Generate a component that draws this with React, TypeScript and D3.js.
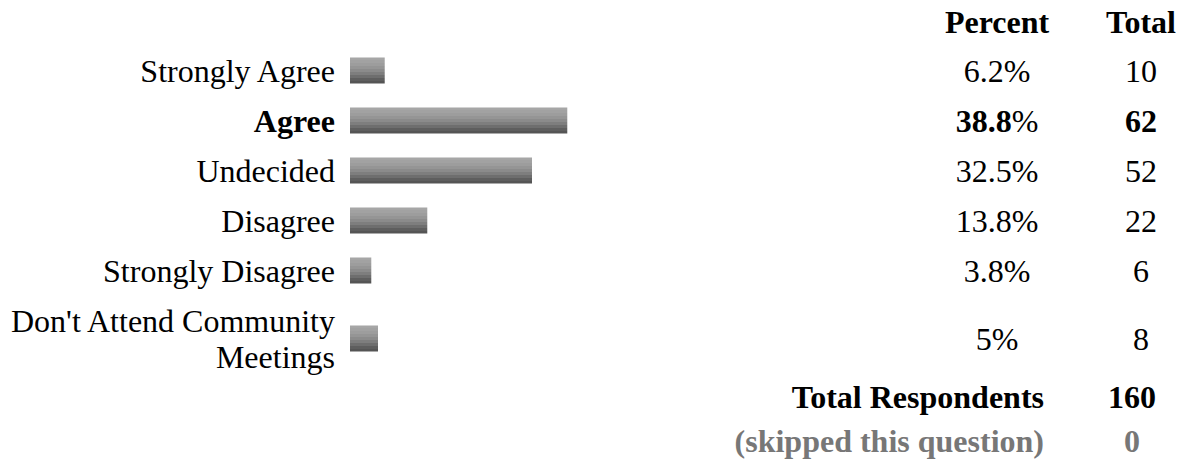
import React from "react";
import * as d3 from "d3";

const categories = [
  ["Strongly Agree"],
  ["Agree"],
  ["Undecided"],
  ["Disagree"],
  ["Strongly Disagree"],
  ["Don't Attend Community", "Meetings"],
];
const percents = [6.2, 38.8, 32.5, 13.8, 3.8, 5];
const percentLabels = ["6.2", "38.8", "32.5", "13.8", "3.8", "5"];
const totals = [10, 62, 52, 22, 6, 8];
const highlightIndex = 1;
const headers = ["Percent", "Total"];
const summaryLabels = ["Total Respondents", "(skipped this question)"];
const summaryValues = [160, 0];

const W = 1186;
const H = 476;
const FONT = "'Liberation Serif', 'Times New Roman', Times, serif";
const FS = 32;

export default function App() {
  const x = d3.scaleLinear().domain([0, 100]).range([0, 560]);
  const barX = 350;
  const barH = 26;
  const labelRight = 335;
  const pctX = 997;
  const totX = 1141;

  // row layout: single-line rows 50px, extra lines add 36px
  const lh = 36;
  const rowHeights = categories.map((c) => 50 + (c.length - 1) * lh);
  const rowTops: number[] = [];
  let acc = 45.5;
  rowHeights.forEach((h) => {
    rowTops.push(acc);
    acc += h;
  });
  const centers = rowTops.map((t, i) => t + rowHeights[i] / 2);

  const bandColors = [
    "#a6a6a6",
    "#a2a2a2",
    "#9d9d9d",
    "#959595",
    "#8b8b8b",
    "#7e7e7e",
    "#6e6e6e",
    "#5e5e5e",
    "#555555",
  ];
  const n = bandColors.length;

  return (
    <svg
      width={W}
      height={H}
      style={{ position: "absolute", left: 0, top: 0, background: "#fff" }}
      fontFamily={FONT}
      fontSize={FS}
    >
      <defs>
        <linearGradient id="barGrad" x1="0" y1="0" x2="0" y2="1">
          {bandColors.flatMap((c, i) => [
            <stop key={`a${i}`} offset={i / n} stopColor={c} />,
            <stop key={`b${i}`} offset={(i + 1) / n} stopColor={c} />,
          ])}
        </linearGradient>
      </defs>

      <text x={pctX} y={33} textAnchor="middle" fontWeight="bold">
        {headers[0]}
      </text>
      <text x={totX} y={33} textAnchor="middle" fontWeight="bold">
        {headers[1]}
      </text>

      {categories.map((lines, i) => {
        const cy = centers[i];
        const bold = i === highlightIndex;
        const firstBaseline = cy + 11.5 - ((lines.length - 1) * lh) / 2;
        return (
          <g key={i}>
            <text textAnchor="end" fontWeight={bold ? "bold" : "normal"} fill="#000">
              {lines.map((l, j) => (
                <tspan key={j} x={labelRight} y={firstBaseline + j * lh}>
                  {l}
                </tspan>
              ))}
            </text>
            <rect
              x={barX}
              y={cy - barH / 2}
              width={x(percents[i])}
              height={barH}
              fill="url(#barGrad)"
            />
            <text x={pctX} y={cy + 11.5} textAnchor="middle">
              <tspan fontWeight={bold ? "bold" : "normal"}>{percentLabels[i]}</tspan>
              <tspan>%</tspan>
            </text>
            <text x={totX} y={cy + 11.5} textAnchor="middle" fontWeight={bold ? "bold" : "normal"}>
              {totals[i]}
            </text>
          </g>
        );
      })}

      {summaryLabels.map((s, i) => (
        <g key={s} fontWeight="bold" fill={i === 0 ? "#000" : "#777777"}>
          <text x={1044} y={408 + i * 44} textAnchor="end">
            {s}
          </text>
          <text x={1132} y={408 + i * 44} textAnchor="middle">
            {summaryValues[i]}
          </text>
        </g>
      ))}
    </svg>
  );
}
